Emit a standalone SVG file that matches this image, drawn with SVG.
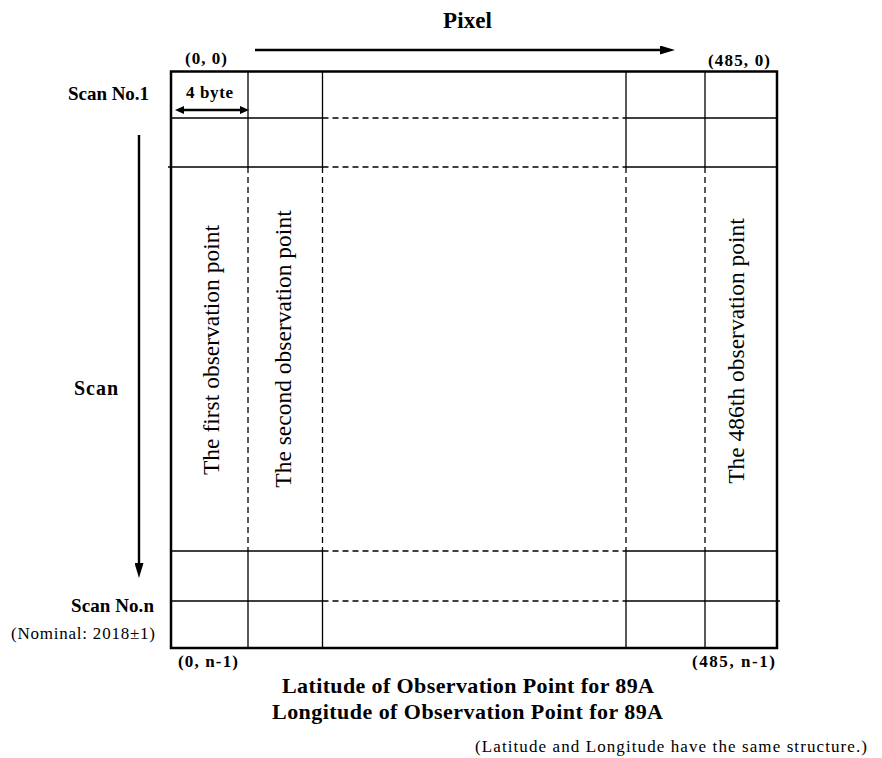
<svg xmlns="http://www.w3.org/2000/svg" width="882" height="758" viewBox="0 0 882 758">
<style>
.bg{fill:#fff}
.border{fill:none;stroke:#000;stroke-width:2.5}
.ln{stroke:#000;stroke-width:1.3;fill:none}
.dash{stroke:#000;stroke-width:1.3;stroke-dasharray:6 4;fill:none}
.arr{stroke:#000;stroke-width:2.4;fill:none}
.b{font-family:"Liberation Serif","Times New Roman",serif;font-weight:bold;fill:#000}
.n{font-family:"Liberation Serif","Times New Roman",serif;fill:#000}
.rot{font-family:"Liberation Serif","Times New Roman",serif;font-size:23.5px;fill:#000;text-anchor:middle}
</style>
<defs>
<marker id="head" markerUnits="userSpaceOnUse" markerWidth="15" markerHeight="9" refX="5" refY="4.5" orient="auto-start-reverse" viewBox="0 0 15 9">
<path d="M0,0 L15,4.5 L0,9 z" fill="#000"/>
</marker>
<marker id="headS" markerUnits="userSpaceOnUse" markerWidth="9" markerHeight="8" refX="3" refY="4" orient="auto-start-reverse" viewBox="0 0 9 8">
<path d="M0,0 L9,4 L0,8 z" fill="#000"/>
</marker>
</defs>
<rect class="bg" x="0" y="0" width="882" height="758"/>

<g id="grid">
<rect class="border" x="171" y="71.5" width="606" height="576.5"/>
<path class="ln" d="M171,118 H322.5 M626,118 H777 M168,167 H322.5 M626,167 H777 M171,551 H322.5 M626,551 H777 M171,601 H322.5 M626,601 H780"/>
<path class="dash" d="M322.5,118 H626 M322.5,167 H626 M322.5,551 H626 M322.5,601 H626"/>
<path class="ln" d="M248,71.5 V167 M322.5,71.5 V167 M626,71.5 V167 M705,71.5 V167 M248,551 V648 M322.5,551 V648 M626,551 V648 M705,551 V648"/>
<path class="dash" d="M248,167 V551 M322.5,167 V551 M626,167 V551 M705,167 V551"/>
</g>

<g id="point-1">
<text class="rot" transform="translate(219,350) rotate(-90)">The first observation point</text>
</g>
<g id="point-2">
<text class="rot" transform="translate(290.5,349) rotate(-90)">The second observation point</text>
</g>
<g id="point-486">
<text class="rot" transform="translate(744,351) rotate(-90)">The 486th observation point</text>
</g>

<g id="connectors">
<line class="arr" x1="255" y1="50" x2="665" y2="50" marker-end="url(#head)"/>
<line class="arr" x1="139" y1="135" x2="139" y2="568" stroke-width="2" marker-end="url(#head)"/>
<line class="arr" x1="181" y1="110" x2="243" y2="110" stroke-width="2" marker-start="url(#headS)" marker-end="url(#headS)"/>
</g>

<g id="labels">
<text class="b" x="443" y="28" font-size="23" textLength="49">Pixel</text>
<text class="b" x="185" y="64" font-size="17" textLength="42">(0, 0)</text>
<text class="b" x="708" y="66" font-size="17" textLength="62">(485, 0)</text>
<text class="b" x="68" y="100" font-size="19" textLength="81">Scan No.1</text>
<text class="b" x="186" y="98" font-size="17" textLength="47">4 byte</text>
<text class="b" x="74" y="395" font-size="20" textLength="44">Scan</text>
<text class="b" x="71" y="612" font-size="19" textLength="83">Scan No.n</text>
<text class="n" x="11" y="639" font-size="17" textLength="144">(Nominal: 2018±1)</text>
<text class="b" x="178" y="667" font-size="17" textLength="60">(0, n-1)</text>
<text class="b" x="692" y="667" font-size="17" textLength="83">(485, n-1)</text>
<text class="b" x="282" y="693" font-size="22" textLength="372">Latitude of Observation Point for 89A</text>
<text class="b" x="272" y="719" font-size="22" textLength="391">Longitude of Observation Point for 89A</text>
<text class="n" x="475" y="752" font-size="17" textLength="392">(Latitude and Longitude have the same structure.)</text>
</g>
</svg>
